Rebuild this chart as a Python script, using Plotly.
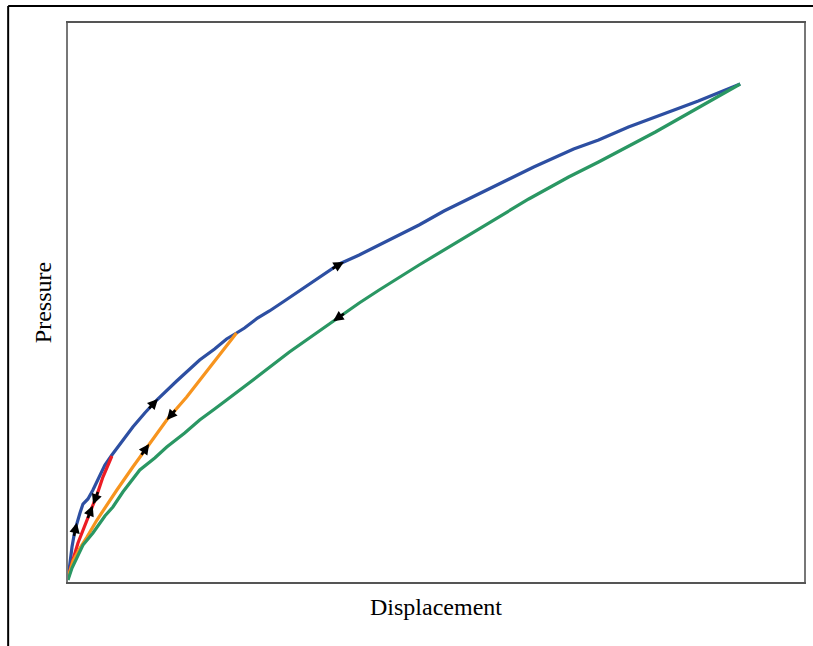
import numpy as np
import plotly.graph_objects as go

# Data (arbitrary units)
blue_x = [0, 2, 4, 7, 9, 12, 15, 20, 25, 29, 32, 37, 44, 52, 65, 77, 89, 109, 132, 147, 159, 169, 177, 190, 202, 217, 232, 252, 272, 292, 312, 332, 352, 377, 422, 467, 507, 532, 562, 599, 632, 674]
blue_y = [3, 20, 35, 52, 60, 69, 78, 83, 92, 100, 107, 117, 127, 138, 155, 169, 182, 201, 222, 233, 243, 249, 254, 264, 271, 281, 291, 305, 318, 327, 337, 347, 357, 371, 393, 415, 433, 442, 455, 469, 481, 498]

green_x = [674, 632, 589, 532, 502, 462, 422, 377, 352, 312, 292, 272, 242, 222, 192, 177, 159, 147, 132, 117, 99, 87, 72, 55, 45, 37, 25, 15, 9, 4, 0]
green_y = [498, 474, 450, 420, 405, 383, 359, 332, 317, 292, 279, 265, 244, 230, 207, 196, 182, 173, 162, 149, 135, 124, 112, 90, 75, 66, 49, 37, 25, 14, 2]

orange_x = [169, 142, 119, 99, 82, 65, 49, 37, 29, 19, 12, 5, 0]
orange_y = [249, 215, 185, 162, 139, 115, 92, 74, 62, 45, 34, 21, 4]

red_x = [44, 35, 29, 19, 10, 4, 0]
red_y = [126, 105, 87, 62, 39, 19, 4]

# direction arrows: (series, displacement at arrow centre, +1 along increasing displacement / -1 decreasing)
arrow_series = ["blue", "red", "red", "blue", "orange", "orange", "blue", "green"]
arrow_at = [7, 22, 28, 85, 104, 77, 270, 272]
arrow_dir = [1, 1, -1, 1, -1, 1, 1, -1]

colors = {"blue": "#2D4FA2", "green": "#2A9763", "orange": "#F7941E", "red": "#EC1C24"}
series = {
    "blue": (blue_x, blue_y),
    "red": (red_x, red_y),
    "orange": (orange_x, orange_y),
    "green": (green_x, green_y),
}

fig = go.Figure()
for name in ["blue", "red", "orange", "green"]:
    xs, ys = series[name]
    fig.add_trace(go.Scatter(x=xs, y=ys, mode="lines",
                             line=dict(color=colors[name], width=3.2),
                             showlegend=False, hoverinfo="skip"))

# arrows placed on the curves
half = 7.5
for s, xc, d in zip(arrow_series, arrow_at, arrow_dir):
    xs, ys = series[s]
    xs = np.array(xs, float)
    ys = np.array(ys, float)
    order = np.argsort(xs)
    xs, ys = xs[order], ys[order]
    seg = np.hypot(np.diff(xs), np.diff(ys))
    arc = np.concatenate([[0], np.cumsum(seg)])
    sc = np.interp(xc, xs, arc)
    s_tip = sc + d * half
    s_tail = sc - d * half
    tx, ty = np.interp(s_tip, arc, xs), np.interp(s_tip, arc, ys)
    bx, by = np.interp(s_tail, arc, xs), np.interp(s_tail, arc, ys)
    fig.add_annotation(x=tx, y=ty, ax=bx, ay=by, xref="x", yref="y",
                       axref="x", ayref="y", text="", showarrow=True,
                       arrowhead=2, arrowsize=0.8, arrowwidth=2.6,
                       arrowcolor="black", standoff=0, startstandoff=0)

# outer frame (left and top edges visible)
fig.add_shape(type="line", xref="paper", yref="paper", x0=-0.0813, x1=-0.0813,
              y0=-0.3, y1=1.0304, line=dict(color="black", width=2))
fig.add_shape(type="line", xref="paper", yref="paper", x0=-0.0813, x1=1.3,
              y0=1.0304, y1=1.0304, line=dict(color="black", width=2))

font = dict(family="Liberation Serif, Times New Roman, serif", size=24, color="black")
fig.update_layout(
    width=813, height=646,
    margin=dict(l=68, r=7, t=23, b=64),
    paper_bgcolor="white", plot_bgcolor="white",
    xaxis=dict(range=[0, 738], showgrid=False, zeroline=False, showticklabels=False,
               ticks="", showline=True, linecolor="#555555", linewidth=1.5, mirror=True,
               title=dict(text="Displacement", font=font, standoff=15)),
    yaxis=dict(range=[0, 559], showgrid=False, zeroline=False, showticklabels=False,
               ticks="", showline=True, linecolor="#777777", linewidth=1.5, mirror=True,
               title=dict(text="Pressure", font=font, standoff=8)),
)

fig.write_html("out.html", config={"displayModeBar": False},
               post_script="document.body.style.margin='0';document.body.style.overflow='hidden';")
